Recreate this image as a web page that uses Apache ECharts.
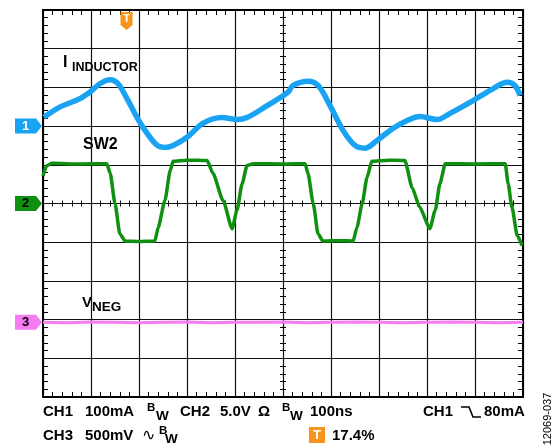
<!DOCTYPE html>
<html>
<head>
<meta charset="utf-8">
<script src="https://cdn.jsdelivr.net/npm/echarts@6/dist/echarts.min.js"></script>
<style>
html,body{margin:0;padding:0;background:#fff;}
#c{width:559px;height:448px;}
</style>
</head>
<body>
<div id="c"></div>
<script>
// Values in screen divisions (x: -5..5, y: -5..5, centre = 0)
const inductorX = [-4.98,-4.65,-4.23,-4.02,-3.81,-3.60,-3.44,-3.25,-3.04,-2.83,-2.62,-2.46,-2.29,-2.00,-1.67,-1.27,-0.96,-0.75,-0.33,0.10,0.21,0.52,0.73,0.98,1.25,1.50,1.71,1.96,2.29,2.58,2.85,3.21,3.48,3.96,4.38,4.67,4.83,4.94];
const inductorY = [2.23,2.49,2.71,2.88,3.10,3.20,3.10,2.71,2.22,1.81,1.50,1.45,1.50,1.71,2.07,2.22,2.17,2.22,2.53,2.87,3.05,3.16,3.05,2.53,1.89,1.50,1.43,1.63,1.94,2.14,2.25,2.17,2.33,2.66,2.97,3.13,3.05,2.79];

const sw2X = [-5.00,-4.92,-4.81,-4.2,-3.67,-3.60,-3.50,-3.40,-3.29,-3.0,-2.67,-2.60,-2.46,-2.35,-2.29,-2.0,-1.58,-1.46,-1.25,-1.06,-0.96,-0.85,-0.75,-0.62,0.0,0.46,0.52,0.63,0.73,0.83,1.2,1.46,1.54,1.65,1.75,1.85,2.2,2.54,2.69,2.85,3.06,3.17,3.27,3.38,4.0,4.63,4.69,4.77,4.88,4.98];
const sw2Y = [0.72,0.98,1.04,1.02,1.03,0.78,0.00,-0.78,-0.97,-0.98,-0.97,-0.62,0.08,0.85,1.09,1.12,1.11,0.78,0.08,-0.65,-0.18,0.52,0.98,1.03,1.02,1.03,0.78,0.00,-0.78,-0.97,-0.96,-0.97,-0.62,0.00,0.67,1.09,1.12,1.11,0.41,-0.10,-0.65,-0.18,0.52,1.03,1.02,1.03,0.52,-0.10,-0.83,-1.09];

const vnegX = [-5.0,-4.5,-4.0,-3.5,-3.0,-2.5,-2.0,-1.5,-1.0,-0.5,0.0,0.5,1.0,1.5,2.0,2.5,3.0,3.5,4.0,4.5,5.0];
const vnegY = [-3.07,-3.08,-3.06,-3.07,-3.08,-3.07,-3.06,-3.08,-3.07,-3.07,-3.06,-3.08,-3.07,-3.06,-3.07,-3.08,-3.07,-3.06,-3.07,-3.08,-3.07];

const ch1Level = 2.0, ch2Level = 0.0, ch3Level = -3.07;
const triggerX = -3.26;   // 17.4 % of the screen
const xMin = -5, xMax = 5, yMin = -5, yMax = 5;

const zip = (a, b) => a.map((v, i) => [v, b[i]]);
const FONT = '"Liberation Sans", Arial, sans-serif';
const BLUE = '#1ba3f3', GREEN = '#109010', PINK = '#f57cf1', ORANGE = '#f7941d';

const chanMarker = (level, color, txt, txtColor) => ({
  coord: [xMin, level],
  symbol: 'path://M0,0 L21,0 L27,7.5 L21,15 L0,15 Z',
  symbolSize: [27, 15],
  symbolOffset: [-14.5, 0],
  itemStyle: { color: color },
  label: { show: true, position: 'inside', formatter: txt, color: txtColor,
           fontWeight: 'bold', fontSize: 13, fontFamily: FONT, offset: [-3, 0] }
});

function xAx(extra) {
  return Object.assign({
    type: 'value', min: xMin, max: xMax, interval: 1,
    axisLabel: { show: false },
    axisTick: { show: false, inside: true },
    minorTick: { show: true, splitNumber: 5, length: 5, lineStyle: { color: '#000', width: 1 } },
    splitLine: { show: false },
    axisLine: { show: true, onZero: false, lineStyle: { color: '#000', width: 2 } }
  }, extra);
}
function yAx(extra) {
  return Object.assign({
    type: 'value', min: yMin, max: yMax, interval: 1,
    axisLabel: { show: false },
    axisTick: { show: false, inside: true },
    minorTick: { show: true, splitNumber: 5, length: 5, lineStyle: { color: '#000', width: 1 } },
    splitLine: { show: false },
    axisLine: { show: true, onZero: false, lineStyle: { color: '#000', width: 2 } }
  }, extra);
}
const centreTick = { show: true, splitNumber: 5, length: 3, lineStyle: { color: '#000', width: 1 } };

const chart = echarts.init(document.getElementById('c'), null, { renderer: 'canvas' });

function txt(t, x, y, size, weight, extra) {
  return Object.assign({
    type: 'text', x: x, y: y, silent: true,
    style: Object.assign({ text: t, font: (weight || 'bold') + ' ' + size + 'px ' + FONT,
      fill: '#000', textVerticalAlign: 'middle', textAlign: 'left' }, extra || {})
  });
}

const rotatedId = txt('12069-037', 547.5, 419, 11, 'normal', { textAlign: 'center' });
rotatedId.rotation = Math.PI / 2;

chart.setOption({
  animation: false,
  backgroundColor: '#fff',
  grid: { left: 43, top: 10, width: 480, height: 387, containLabel: false },
  xAxis: [
    xAx({ position: 'bottom', splitLine: { show: true, lineStyle: { color: '#111', width: 1.2 } } }),
    xAx({ position: 'top' }),
    xAx({ position: 'bottom', axisLine: { show: false, onZero: true, onZeroAxisIndex: 0 }, axisTick: { show: false, inside: true }, minorTick: centreTick }),
    xAx({ position: 'bottom', axisLine: { show: false, onZero: true, onZeroAxisIndex: 0 }, axisTick: { show: false, inside: false }, minorTick: centreTick })
  ],
  yAxis: [
    yAx({ position: 'left', splitLine: { show: true, lineStyle: { color: '#111', width: 1.2 } } }),
    yAx({ position: 'right' }),
    yAx({ position: 'left', axisLine: { show: false, onZero: true, onZeroAxisIndex: 0 }, axisTick: { show: false, inside: true }, minorTick: centreTick }),
    yAx({ position: 'left', axisLine: { show: false, onZero: true, onZeroAxisIndex: 0 }, axisTick: { show: false, inside: false }, minorTick: centreTick })
  ],
  series: [
    {
      name: 'VNEG', type: 'line', data: zip(vnegX, vnegY), showSymbol: false,
      lineStyle: { color: PINK, width: 3 }, clip: true, z: 3,
      markPoint: { silent: true, data: [chanMarker(ch3Level, PINK, '3', '#000')] }
    },
    {
      name: 'SW2', type: 'line', data: zip(sw2X, sw2Y), showSymbol: false,
      smooth: 0.2, smoothMonotone: 'x',
      lineStyle: { color: GREEN, width: 3.5 }, clip: true, z: 4,
      markPoint: { silent: true, data: [chanMarker(ch2Level, GREEN, '2', '#000')] }
    },
    {
      name: 'IINDUCTOR', type: 'line', data: zip(inductorX, inductorY), showSymbol: false,
      smooth: 0.35,
      lineStyle: { color: BLUE, width: 5.5 }, clip: true, z: 5,
      markPoint: { silent: true, data: [
        chanMarker(ch1Level, BLUE, '1', '#fff'),
        {
          coord: [triggerX, yMax],
          symbol: 'path://M0,0 L12,0 L12,13 L6,18 L0,13 Z',
          symbolSize: [12, 18], symbolOffset: [0, 11],
          itemStyle: { color: ORANGE },
          label: { show: true, position: 'inside', formatter: 'T', color: '#fff',
                   fontWeight: 'bold', fontSize: 11, fontFamily: FONT, offset: [0, -2] }
        }
      ] }
    }
  ],
  graphic: [
    txt('I', 63, 62.5, 16),
    txt('INDUCTOR', 72, 67.5, 12.5),
    txt('SW2', 83, 145, 16),
    txt('V', 82, 302.5, 15),
    txt('NEG', 92, 307.5, 13.5),
    // bottom row 1
    txt('CH1', 43, 412, 15),
    txt('100mA', 85, 412, 15),
    txt('B', 147, 408, 11.5),
    txt('W', 156, 416.5, 13.5),
    txt('CH2', 180, 412, 15),
    txt('5.0V', 220, 412, 15),
    txt('Ω', 258, 412, 15),
    txt('B', 282, 408, 11.5),
    txt('W', 290, 416.5, 13.5),
    txt('100ns', 310, 412, 15),
    txt('CH1', 423, 412, 15),
    { type: 'polyline', silent: true,
      shape: { points: [[461, 407], [469, 407], [473, 417], [481, 417]] },
      style: { stroke: '#000', lineWidth: 1.6, fill: null } },
    txt('80mA', 484, 412, 15),
    // bottom row 2
    txt('CH3', 43, 436, 15),
    txt('500mV', 85, 436, 15),
    txt('∿', 142, 436, 16, 'normal'),
    txt('B', 159, 431, 11.5),
    txt('W', 165, 439.5, 13.5),
    { type: 'rect', silent: true, shape: { x: 309, y: 427, width: 16, height: 16 }, style: { fill: ORANGE } },
    txt('T', 317, 435.5, 13, 'bold', { fill: '#fff', textAlign: 'center' }),
    txt('17.4%', 332, 436, 15),
    rotatedId
  ]
});
</script>
</body>
</html>
